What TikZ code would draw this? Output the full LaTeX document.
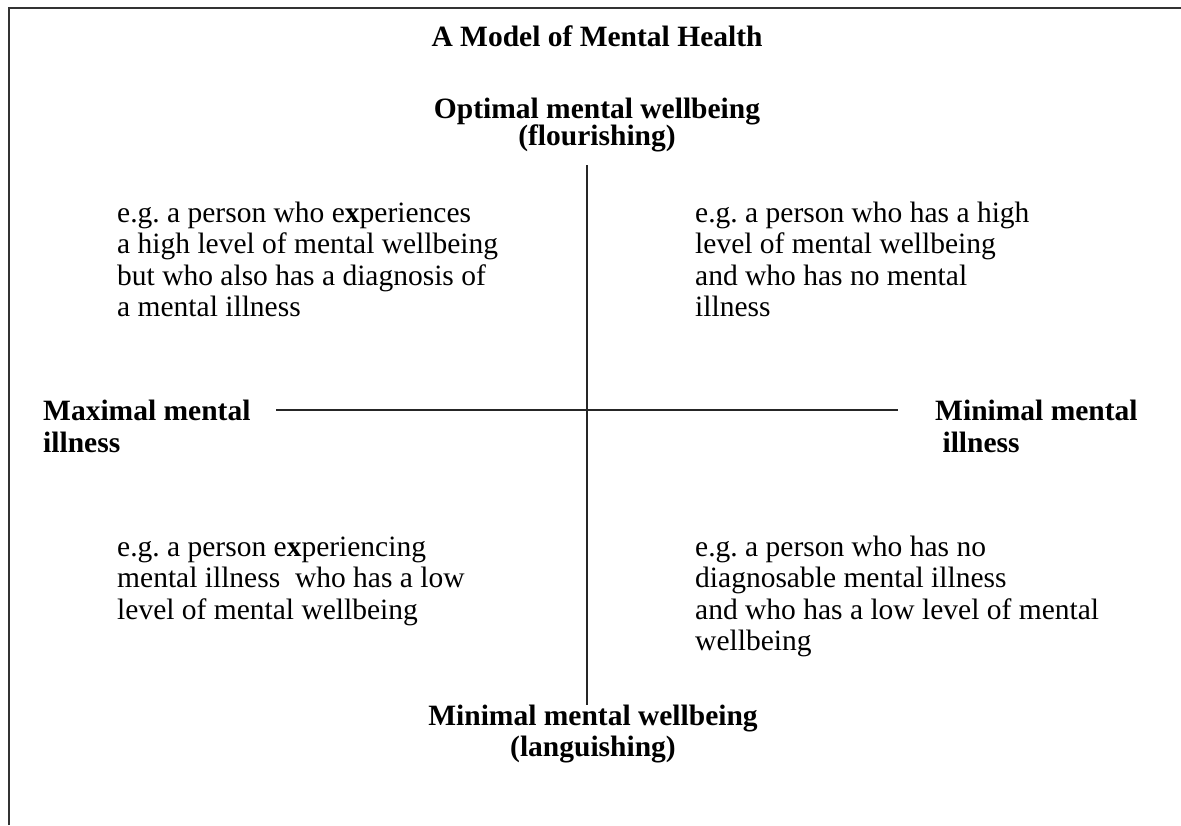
\documentclass[tikz,border=0pt]{standalone}
\usepackage{fontspec}
\setmainfont{Liberation Serif}
\frenchspacing
\begin{document}
\begin{tikzpicture}[x=1pt,y=-1pt,
  frameline/.style={line width=1.6pt,draw=black!80},
  axisline/.style={line width=1.5pt,draw=black!85},
  qtext/.style={anchor=base west,inner sep=0pt,font=\fontsize{29.5}{31.5}\selectfont},
  htext/.style={anchor=base,inner sep=0pt,font=\fontsize{29.5}{31.5}\selectfont\bfseries},
  sidetext/.style={anchor=base west,inner sep=0pt,font=\fontsize{29.5}{32}\selectfont\bfseries}]
\useasboundingbox (0,0) rectangle (1181,825);
% frame (top and left edges only)
\coordinate (fbl) at (9,825);
\coordinate (ftl) at (9,8);
\coordinate (ftr) at (1181,8);
\draw[frameline] (fbl) -- (ftl) -- (ftr);
% title
\node[htext] (title) at (597,46) {A Model of Mental Health};
\node[htext] (topt) at (597,118) {\begin{tabular}[t]{@{}c@{}}Optimal mental wellbeing\\[-4pt](flourishing)\end{tabular}};
\node[htext] (bott) at (593,725) {\begin{tabular}[t]{@{}c@{}}Minimal mental wellbeing\\(languishing)\end{tabular}};
\node[sidetext] (leftt) at (43,420) {\begin{tabular}[t]{@{}l@{}}Maximal mental\\illness\end{tabular}};
\node[sidetext] (rightt) at (935,420) {\begin{tabular}[t]{@{}l@{}}Minimal mental\\\ illness\end{tabular}};
% axes
\coordinate (vtop) at (587,165);
\coordinate (vbot) at (587,705);
\coordinate (hleft) at (276,410);
\coordinate (hright) at (898,410);
\draw[axisline] (vtop) -- (vbot);
\draw[axisline] (hleft) -- (hright);
% quadrant texts
\node[qtext] (tl) at (117,222) {\begin{tabular}[t]{@{}l@{}}e.g. a person who e\textbf{x}periences\\a high level of mental wellbeing\\but who also has a diagnosis of\\a mental illness\end{tabular}};
\node[qtext] (tr) at (695,222) {\begin{tabular}[t]{@{}l@{}}e.g. a person who has a high\\level of mental wellbeing\\and who has no mental\\illness\end{tabular}};
\node[qtext] (bl) at (117,556) {\begin{tabular}[t]{@{}l@{}}e.g. a person e\textbf{x}periencing\\mental illness\ \ who has a low\\level of mental wellbeing\end{tabular}};
\node[qtext] (br) at (695,556) {\begin{tabular}[t]{@{}l@{}}e.g. a person who has no\\diagnosable mental illness\\and who has a low level of mental\\wellbeing\end{tabular}};
\end{tikzpicture}
\end{document}
